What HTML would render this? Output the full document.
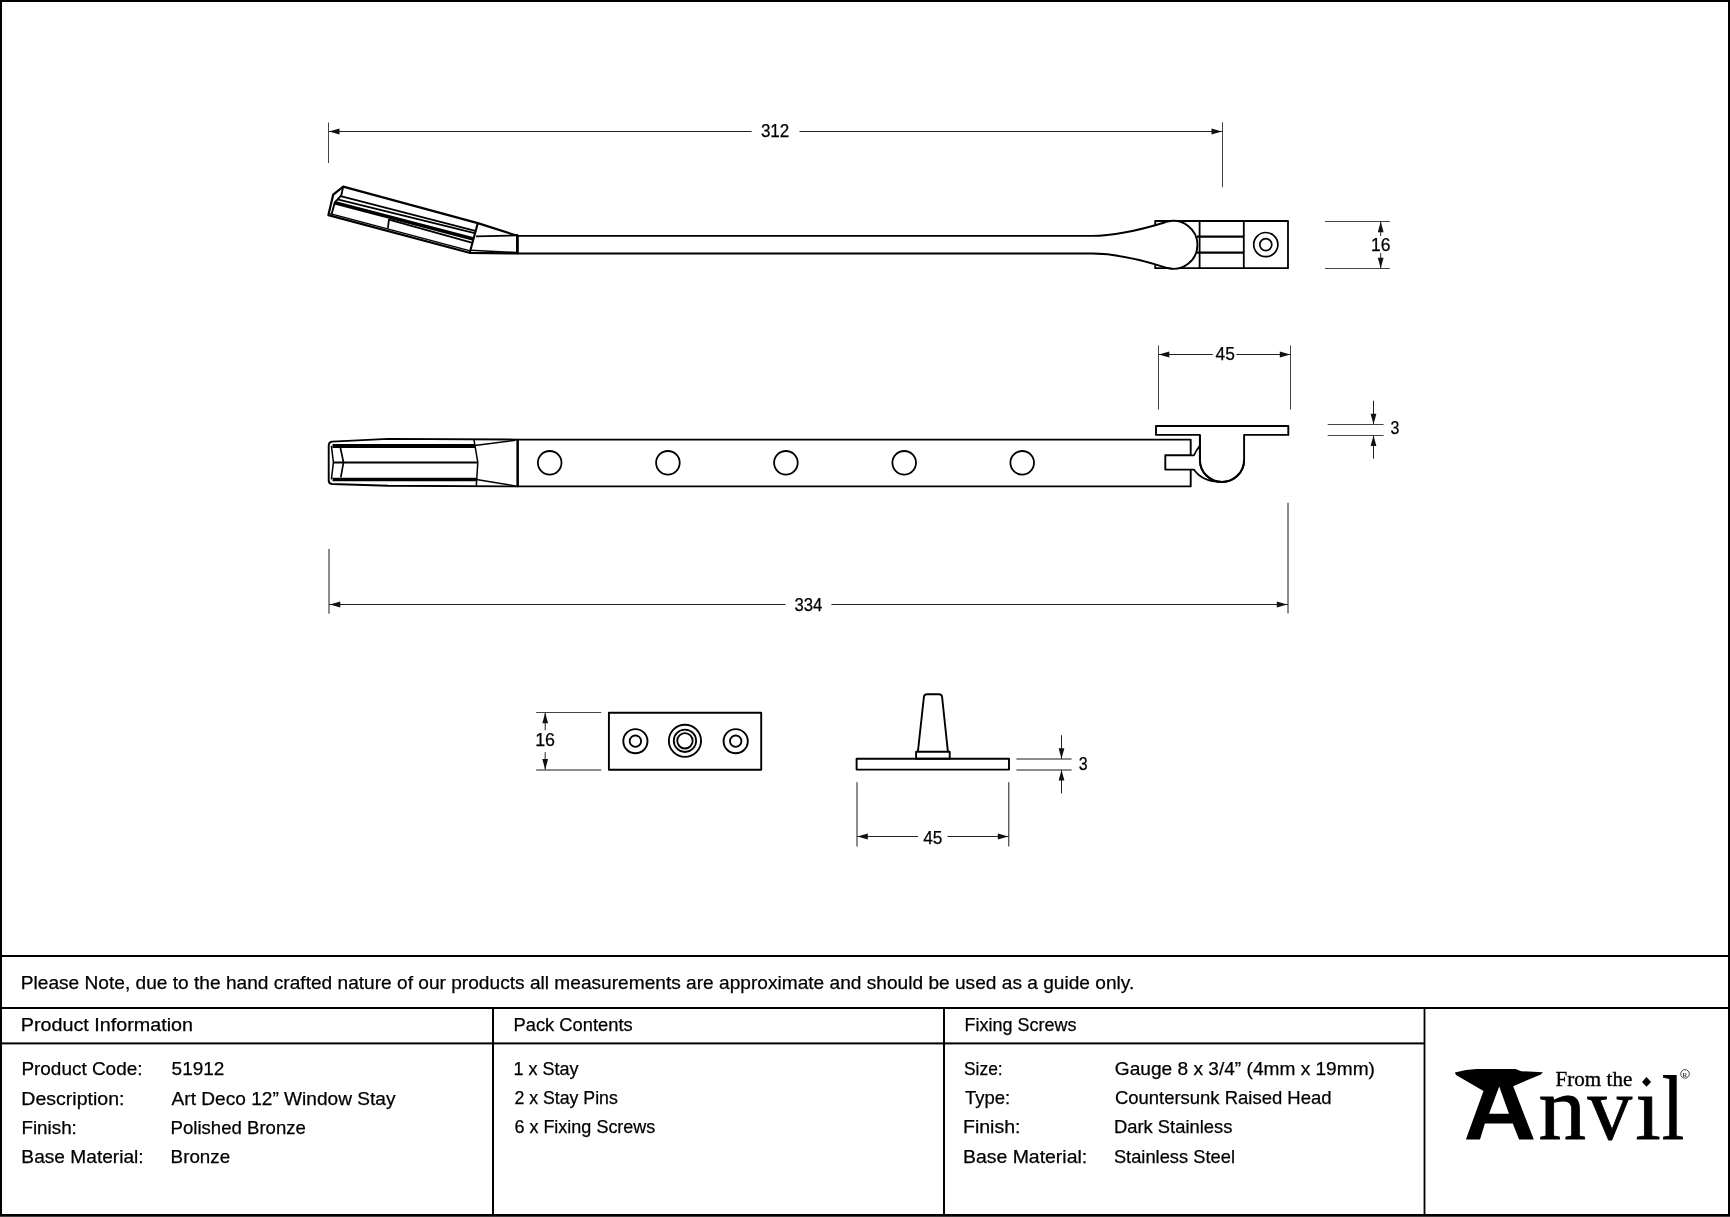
<!DOCTYPE html>
<html><head><meta charset="utf-8"><title>Art Deco 12" Window Stay</title>
<style>
html,body{margin:0;padding:0;background:#fff;}
body{width:1730px;height:1217px;overflow:hidden;position:relative;}
svg{position:absolute;left:0;top:0;display:block;filter:grayscale(1);}
.ss{font-family:"Liberation Sans", sans-serif;fill:#000;stroke:#000;stroke-width:0.25;}
.sf{font-family:"Liberation Serif", serif;fill:#000;}
.dl{stroke:#222;}
.el{stroke:#444;}
.eg{stroke:#1a1a1a;}
.ah{fill:#111;}
.o{fill:none;stroke:#000;stroke-linejoin:round;}
.ow{fill:#fff;stroke:#000;stroke-linejoin:round;}
</style></head>
<body>
<svg width="1730" height="1217" viewBox="0 0 1730 1217" stroke-width="1">
<rect x="0" y="0" width="1730" height="1217" fill="#fff"/>
<!-- frame -->
<rect x="0" y="0" width="1730" height="2" fill="#000"/>
<rect x="0" y="0" width="2" height="1217" fill="#000"/>
<rect x="1728" y="0" width="2" height="1217" fill="#000"/>
<rect x="0" y="1214" width="1730" height="2" fill="#000"/>
<rect x="0" y="1216" width="1730" height="1" fill="#404040"/>
<!-- table -->
<rect x="0" y="955" width="1730" height="2" fill="#000"/>
<rect x="0" y="1007" width="1730" height="2" fill="#000"/>
<rect x="0" y="1042.4" width="1425" height="2" fill="#000"/>
<rect x="492" y="1007" width="2" height="209" fill="#000"/>
<rect x="943" y="1007" width="2" height="209" fill="#000"/>
<rect x="1423.6" y="1007" width="1.8" height="209" fill="#000"/>
<!-- dimensions -->
<line class="el" x1="328.5" y1="122.5" x2="328.5" y2="163"/>
<line class="el" x1="1222.5" y1="122.2" x2="1222.5" y2="187.3"/>
<line class="dl" x1="329" y1="131.5" x2="751.6" y2="131.5"/>
<line class="dl" x1="799.5" y1="131.5" x2="1222.5" y2="131.5"/>
<polygon class="ah" points="329.0,131.5 339.5,128.6 339.5,134.4"/>
<polygon class="ah" points="1222.0,131.5 1211.5,128.6 1211.5,134.4"/>
<line class="el" x1="1325" y1="221.5" x2="1389.8" y2="221.5"/>
<line class="el" x1="1325" y1="268.5" x2="1389.8" y2="268.5"/>
<line class="dl" x1="1380.7" y1="221.5" x2="1380.7" y2="236"/>
<line class="dl" x1="1380.7" y1="253.1" x2="1380.7" y2="268.5"/>
<polygon class="ah" points="1380.7,221.8 1377.8,232.3 1383.6,232.3"/>
<polygon class="ah" points="1380.7,268.2 1377.8,257.7 1383.6,257.7"/>
<line class="el" x1="1158.5" y1="345.4" x2="1158.5" y2="409.6"/>
<line class="el" x1="1290.5" y1="345.4" x2="1290.5" y2="409.6"/>
<line class="dl" x1="1158.5" y1="354.5" x2="1212.8" y2="354.5"/>
<line class="dl" x1="1236.3" y1="354.5" x2="1290.5" y2="354.5"/>
<polygon class="ah" points="1158.8,354.5 1169.3,351.6 1169.3,357.4"/>
<polygon class="ah" points="1290.3,354.5 1279.8,351.6 1279.8,357.4"/>
<line class="el" x1="1327.7" y1="424.5" x2="1383.6" y2="424.5"/>
<line class="el" x1="1327.7" y1="435.5" x2="1383.6" y2="435.5"/>
<line class="dl" x1="1373.5" y1="400.7" x2="1373.5" y2="424.2"/>
<line class="dl" x1="1373.5" y1="435.4" x2="1373.5" y2="458.7"/>
<polygon class="ah" points="1373.5,424.2 1370.6,413.7 1376.4,413.7"/>
<polygon class="ah" points="1373.5,435.6 1370.6,446.1 1376.4,446.1"/>
<line class="eg" x1="329" y1="548.9" x2="329" y2="613.7"/>
<line class="eg" x1="1288" y1="502.8" x2="1288" y2="613.4"/>
<line class="dl" x1="329" y1="604.5" x2="785.5" y2="604.5"/>
<line class="dl" x1="831.4" y1="604.5" x2="1288" y2="604.5"/>
<polygon class="ah" points="329.8,604.5 340.3,601.6 340.3,607.4"/>
<polygon class="ah" points="1287.3,604.5 1276.8,601.6 1276.8,607.4"/>
<line class="el" x1="536.2" y1="712.5" x2="601.2" y2="712.5"/>
<line class="eg" x1="536.2" y1="770" x2="601.2" y2="770"/>
<line class="dl" x1="545.2" y1="712.5" x2="545.2" y2="730.3"/>
<line class="dl" x1="545.2" y1="752.1" x2="545.2" y2="769.7"/>
<polygon class="ah" points="545.2,712.8 542.3,723.3 548.1,723.3"/>
<polygon class="ah" points="545.2,769.6 542.3,759.1 548.1,759.1"/>
<line class="eg" x1="857" y1="782.2" x2="857" y2="846.5"/>
<line class="eg" x1="1008.8" y1="782.2" x2="1008.8" y2="846.5"/>
<line class="dl" x1="857" y1="836.5" x2="918.1" y2="836.5"/>
<line class="dl" x1="947.5" y1="836.5" x2="1008.6" y2="836.5"/>
<polygon class="ah" points="857.3,836.5 867.8,833.6 867.8,839.4"/>
<polygon class="ah" points="1008.3,836.5 997.8,833.6 997.8,839.4"/>
<line class="eg" x1="1016.4" y1="759" x2="1071.6" y2="759"/>
<line class="eg" x1="1016.4" y1="770" x2="1071.6" y2="770"/>
<line class="dl" x1="1061.5" y1="735.2" x2="1061.5" y2="758.8"/>
<line class="dl" x1="1061.5" y1="770" x2="1061.5" y2="793.5"/>
<polygon class="ah" points="1061.5,758.8 1058.6,748.3 1064.4,748.3"/>
<polygon class="ah" points="1061.5,770.0 1058.6,780.5 1064.4,780.5"/>
<!-- drawing -->
<!-- ===== TOP VIEW ===== -->
<!-- right block -->
<rect class="o" x="1155.2" y="221" width="132.8" height="47.2" stroke-width="1.8"/>
<line class="o" x1="1199.6" y1="221" x2="1199.6" y2="268.2" stroke-width="1.8"/>
<line class="o" x1="1243.8" y1="221" x2="1243.8" y2="268.2" stroke-width="1.8"/>
<line class="o" x1="1197" y1="236.6" x2="1243.8" y2="236.6" stroke-width="2.4"/>
<line class="o" x1="1197" y1="252.6" x2="1243.8" y2="252.6" stroke-width="2.4"/>
<circle class="o" cx="1265.8" cy="244.6" r="12.1" stroke-width="1.7"/>
<circle class="o" cx="1265.8" cy="244.6" r="6.0" stroke-width="1.7"/>
<!-- shaft + bulb -->
<path class="ow" d="M517.3,235.9 L1092,235.9 C1125,235.9 1162,223.1 1167.5,221.66 A23.95,23.95 0 1 1 1167.5,268.04 C1162,266.5 1125,253.5 1092,253.5 L517.3,253.5 Z" stroke-width="1.9"/>
<!-- hex tip (angled) -->
<path class="ow" d="M343.2,186.6 L477.8,223.1 L515.4,235.2 L517.3,235.2 L517.3,253.5 L469.3,252.8 L328.4,215.1 L333.2,194.7 Z" stroke-width="2.2"/>
<line class="o" x1="517.3" y1="235.2" x2="517.3" y2="253.5" stroke-width="2.5"/>
<polyline class="o" points="343.2,186.6 341.3,195.3 334.8,202.4 331.5,214.6" stroke-width="1.9"/>
<line class="o" x1="477.8" y1="223.1" x2="469.8" y2="252.5" stroke-width="2.1"/>
<line class="o" x1="340.6" y1="196.2" x2="476.3" y2="231.2" stroke-width="1.8"/>
<line class="o" x1="337.6" y1="199.4" x2="475.6" y2="233.3" stroke-width="1.7"/>
<line class="o" x1="334.8" y1="202.7" x2="473.5" y2="239" stroke-width="3.5"/>
<line class="o" x1="389" y1="219.6" x2="472.5" y2="242.8" stroke-width="1.8"/>
<line class="o" x1="389" y1="219.2" x2="387.9" y2="228.5" stroke-width="1.8"/>
<line class="o" x1="330.2" y1="213.6" x2="470.2" y2="250.9" stroke-width="1.5"/>
<line class="o" x1="476" y1="236.4" x2="515.4" y2="235.4" stroke-width="1.8"/>
<line class="o" x1="470.5" y1="250.3" x2="516.6" y2="252.6" stroke-width="1.6"/>

<!-- ===== SIDE VIEW ===== -->
<!-- plate + pin -->
<path class="ow" d="M1156,426 L1288.3,426 L1288.3,434.9 L1244.1,434.9 L1244.1,459.9 A22.1,22.1 0 0 1 1199.9,459.9 L1199.9,434.9 L1156,434.9 Z" stroke-width="1.9"/>
<!-- bar -->
<path class="ow" d="M517.6,439.6 L1190.7,439.6 L1190.7,455.3 L1165.3,455.3 L1165.3,469.6 L1190.7,469.6 L1190.7,486.4 L517.6,486.4 Z" stroke-width="1.9"/>
<path class="o" d="M1190.7,455.3 L1193.9,455.3 C1195.5,452 1197.5,448.5 1199.6,446.1" stroke-width="1.7"/>
<path class="o" d="M1190.7,469.6 L1193.9,469.6 C1199,477 1207,482 1221,482" stroke-width="1.7"/>
<path class="o" d="M1199.9,434.9 L1199.9,459.9 A22.1,22.1 0 0 0 1244.1,459.9" stroke-width="1.9"/>
<circle class="o" cx="549.7" cy="462.8" r="11.8" stroke-width="1.8"/>
<circle class="o" cx="667.9" cy="462.8" r="11.8" stroke-width="1.8"/>
<circle class="o" cx="785.9" cy="462.8" r="11.8" stroke-width="1.8"/>
<circle class="o" cx="904.2" cy="462.8" r="11.8" stroke-width="1.8"/>
<circle class="o" cx="1022.2" cy="462.8" r="11.8" stroke-width="1.8"/>
<!-- side-view tip -->
<path class="ow" d="M517.6,439.6 L388,438.9 L332,441.6 Q328.7,442 328.7,445.5 L328.7,480.5 Q328.7,483.8 332,484 L388,485.8 L517.6,486.4 Z" stroke-width="1.9"/>
<line class="o" x1="517.6" y1="439.6" x2="517.6" y2="486.4" stroke-width="2"/>
<line class="o" x1="332.5" y1="445.9" x2="474.8" y2="445.9" stroke-width="4"/>
<line class="o" x1="333.4" y1="462.6" x2="477.8" y2="462.6" stroke-width="2"/>
<line class="o" x1="332.5" y1="479.5" x2="476.3" y2="479.5" stroke-width="3.6"/>
<polyline class="o" points="331.4,445.8 333.4,462.4 331.4,479.3" stroke-width="1.5"/>
<polyline class="o" points="340.3,447.3 343.5,462.4 340.8,477.3" stroke-width="1.7"/>
<polyline class="o" points="474,439.8 477.8,462.4 476.3,486" stroke-width="1.5"/>
<line class="o" x1="474.8" y1="445.5" x2="515.4" y2="440.3" stroke-width="1.5"/>
<line class="o" x1="476.3" y1="479.4" x2="515.4" y2="486" stroke-width="1.5"/>

<!-- ===== ESCUTCHEON ===== -->
<rect class="o" x="608.9" y="712.8" width="152.3" height="56.9" stroke-width="1.9"/>
<circle class="o" cx="635.4" cy="741.2" r="12.1" stroke-width="1.9"/>
<circle class="o" cx="635.4" cy="741.2" r="5.7" stroke-width="1.8"/>
<circle class="o" cx="735.7" cy="741.2" r="12.1" stroke-width="1.9"/>
<circle class="o" cx="735.7" cy="741.2" r="5.7" stroke-width="1.8"/>
<circle class="o" cx="684.95" cy="740.8" r="16.1" stroke-width="1.9"/>
<circle class="o" cx="684.95" cy="740.8" r="11.2" stroke-width="1.8"/>
<circle cx="684.95" cy="740.8" r="9.5" fill="none" stroke="#ddd" stroke-width="0.5"/>
<circle class="o" cx="684.95" cy="740.8" r="7.7" stroke-width="1.8"/>

<!-- ===== PIN ===== -->
<rect class="o" x="856.6" y="758.8" width="152.4" height="10.8" stroke-width="1.9"/>
<rect class="o" x="916.1" y="751.7" width="33.6" height="7.1" stroke-width="1.9"/>
<path class="o" d="M917.9,751.7 L923.9,697 Q924.2,694.3 927,694.3 L939,694.3 Q941.8,694.3 942.1,697 L947.9,751.7" stroke-width="1.9"/>

<!-- ===== LOGO ===== -->
<path fill="#000" fill-rule="evenodd" d="M1454.9,1072.6 L1466.1,1070.1 L1476.5,1068.9 L1515.6,1068.9 L1521.2,1071.2 L1542.9,1072.2 L1540.8,1074.5 L1513.2,1086.2 L1533.8,1139.6 L1519.1,1139.6 L1512.8,1123.5 L1484.9,1123.5 L1480,1139.6 L1465.9,1139.6 L1483.5,1091.1 L1456,1075 Z M1499.2,1086.5 L1489.1,1113.8 L1509,1113.8 Z"/>
<path fill="#000" d="M1646.5,1077 L1651,1081.9 L1646.5,1086.8 L1642,1081.9 Z"/>
<text class="sf" x="1538.6" y="1139.1" font-size="92" textLength="47.6" lengthAdjust="spacingAndGlyphs" stroke="#000" stroke-width="0.8">n</text>
<text class="sf" x="1587.4" y="1139.1" font-size="92" textLength="44.6" lengthAdjust="spacingAndGlyphs" stroke="#000" stroke-width="0.8">v</text>
<text class="sf" x="1635.2" y="1139.1" font-size="92" stroke="#000" stroke-width="0.8">&#305;</text>
<text class="sf" x="1661.8" y="1139.1" font-size="92" textLength="22.5" lengthAdjust="spacingAndGlyphs" stroke="#000" stroke-width="0.8">l</text>
<circle cx="1685" cy="1073.9" r="4.3" fill="none" stroke="#000" stroke-width="0.7"/>
<text class="sf" x="1682.6" y="1076.6" font-size="7">R</text>

<!-- text -->
<text class="ss" x="20.79" y="989.00" font-size="19.0" textLength="1113.49" lengthAdjust="spacingAndGlyphs">Please Note, due to the hand crafted nature of our products all measurements are approximate and should be used as a guide only.</text>
<text class="ss" x="20.76" y="1031.00" font-size="19.0" textLength="172.24" lengthAdjust="spacingAndGlyphs">Product Information</text>
<text class="ss" x="513.53" y="1031.00" font-size="19.0" textLength="119.16" lengthAdjust="spacingAndGlyphs">Pack Contents</text>
<text class="ss" x="964.55" y="1031.00" font-size="19.0" textLength="111.92" lengthAdjust="spacingAndGlyphs">Fixing Screws</text>
<text class="ss" x="21.40" y="1075.00" font-size="19.0" textLength="121.08" lengthAdjust="spacingAndGlyphs">Product Code:</text>
<text class="ss" x="21.37" y="1104.50" font-size="19.0" textLength="103.15" lengthAdjust="spacingAndGlyphs">Description:</text>
<text class="ss" x="21.40" y="1133.50" font-size="19.0" textLength="55.47" lengthAdjust="spacingAndGlyphs">Finish:</text>
<text class="ss" x="21.39" y="1162.50" font-size="19.0" textLength="122.30" lengthAdjust="spacingAndGlyphs">Base Material:</text>
<text class="ss" x="171.58" y="1075.00" font-size="19.0" textLength="52.80" lengthAdjust="spacingAndGlyphs">51912</text>
<text class="ss" x="171.60" y="1104.50" font-size="19.0" textLength="223.91" lengthAdjust="spacingAndGlyphs">Art Deco 12” Window Stay</text>
<text class="ss" x="170.62" y="1133.50" font-size="19.0" textLength="135.24" lengthAdjust="spacingAndGlyphs">Polished Bronze</text>
<text class="ss" x="170.60" y="1162.50" font-size="19.0" textLength="59.57" lengthAdjust="spacingAndGlyphs">Bronze</text>
<text class="ss" x="513.45" y="1075.00" font-size="19.0" textLength="65.10" lengthAdjust="spacingAndGlyphs">1 x Stay</text>
<text class="ss" x="514.39" y="1104.00" font-size="19.0" textLength="103.48" lengthAdjust="spacingAndGlyphs">2 x Stay Pins</text>
<text class="ss" x="514.39" y="1133.00" font-size="19.0" textLength="140.99" lengthAdjust="spacingAndGlyphs">6 x Fixing Screws</text>
<text class="ss" x="963.97" y="1075.00" font-size="19.0" textLength="38.72" lengthAdjust="spacingAndGlyphs">Size:</text>
<text class="ss" x="965.00" y="1104.00" font-size="19.0" textLength="45.27" lengthAdjust="spacingAndGlyphs">Type:</text>
<text class="ss" x="962.94" y="1133.00" font-size="19.0" textLength="57.60" lengthAdjust="spacingAndGlyphs">Finish:</text>
<text class="ss" x="962.96" y="1162.50" font-size="19.0" textLength="124.25" lengthAdjust="spacingAndGlyphs">Base Material:</text>
<text class="ss" x="1114.89" y="1075.00" font-size="19.0" textLength="260.04" lengthAdjust="spacingAndGlyphs">Gauge 8 x 3/4” (4mm x 19mm)</text>
<text class="ss" x="1114.89" y="1104.00" font-size="19.0" textLength="216.66" lengthAdjust="spacingAndGlyphs">Countersunk Raised Head</text>
<text class="ss" x="1113.93" y="1133.00" font-size="19.0" textLength="118.46" lengthAdjust="spacingAndGlyphs">Dark Stainless</text>
<text class="ss" x="1113.88" y="1162.50" font-size="19.0" textLength="121.10" lengthAdjust="spacingAndGlyphs">Stainless Steel</text>
<text class="ss" x="760.90" y="137.10" font-size="17.5" textLength="28.41" lengthAdjust="spacingAndGlyphs">312</text>
<text class="ss" x="794.40" y="611.00" font-size="17.5" textLength="27.85" lengthAdjust="spacingAndGlyphs">334</text>
<text class="ss" x="1215.50" y="359.90" font-size="17.5" textLength="19.33" lengthAdjust="spacingAndGlyphs">45</text>
<text class="ss" x="923.20" y="843.50" font-size="17.5" textLength="19.22" lengthAdjust="spacingAndGlyphs">45</text>
<text class="ss" x="1371.10" y="251.00" font-size="17.5" textLength="19.43" lengthAdjust="spacingAndGlyphs">16</text>
<text class="ss" x="535.18" y="745.90" font-size="17.5" textLength="19.87" lengthAdjust="spacingAndGlyphs">16</text>
<text class="ss" x="1390.60" y="434.40" font-size="17.5" textLength="8.87" lengthAdjust="spacingAndGlyphs">3</text>
<text class="ss" x="1078.70" y="769.90" font-size="17.5" textLength="8.87" lengthAdjust="spacingAndGlyphs">3</text>
<text class="sf" x="1555.49" y="1085.90" font-size="21.0" textLength="76.83" lengthAdjust="spacingAndGlyphs" style="stroke:#000;stroke-width:0.35">From the</text>
</svg>
</body></html>
